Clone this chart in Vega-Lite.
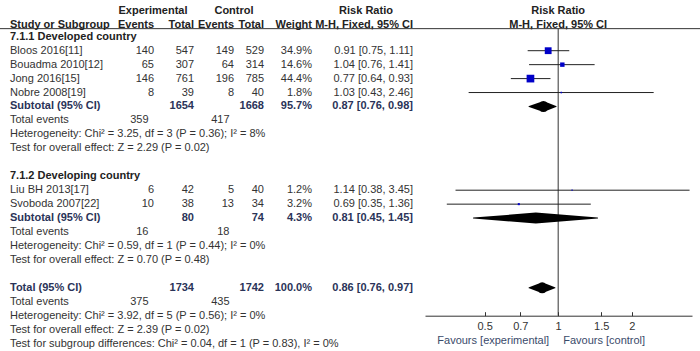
{
  "$schema": "https://vega.github.io/schema/vega-lite/v6.json",
  "width": 700,
  "height": 351,
  "autosize": "none",
  "padding": 0,
  "background": "white",
  "config": {
    "view": {"stroke": null},
    "text": {"font": "Liberation Sans", "fontSize": 11, "color": "#333333", "baseline": "middle"}
  },
  "datasets": {
    "rows": [
      {"row": 3, "kind": "head", "label": "7.1.1 Developed country"},
      {"row": 4, "kind": "study", "label": "Bloos 2016[11]", "e_ev": "140", "e_tot": "547", "c_ev": "149", "c_tot": "529", "wt": "34.9%", "ci": "0.91 [0.75, 1.11]", "rr": 0.91, "lo": 0.75, "hi": 1.11, "w": 34.9},
      {"row": 5, "kind": "study", "label": "Bouadma 2010[12]", "e_ev": "65", "e_tot": "307", "c_ev": "64", "c_tot": "314", "wt": "14.6%", "ci": "1.04 [0.76, 1.41]", "rr": 1.04, "lo": 0.76, "hi": 1.41, "w": 14.6},
      {"row": 6, "kind": "study", "label": "Jong 2016[15]", "e_ev": "146", "e_tot": "761", "c_ev": "196", "c_tot": "785", "wt": "44.4%", "ci": "0.77 [0.64, 0.93]", "rr": 0.77, "lo": 0.64, "hi": 0.93, "w": 44.4},
      {"row": 7, "kind": "study", "label": "Nobre 2008[19]", "e_ev": "8", "e_tot": "39", "c_ev": "8", "c_tot": "40", "wt": "1.8%", "ci": "1.03 [0.43, 2.46]", "rr": 1.03, "lo": 0.43, "hi": 2.46, "w": 1.8},
      {"row": 8, "kind": "sub", "label": "Subtotal (95% CI)", "e_tot": "1654", "c_tot": "1668", "wt": "95.7%", "ci": "0.87 [0.76, 0.98]", "rr": 0.87, "lo": 0.76, "hi": 0.98},
      {"row": 9, "kind": "ev", "label": "Total events", "te_e": "359", "te_c": "417"},
      {"row": 10, "kind": "info", "label": "Heterogeneity: Chi² = 3.25, df = 3 (P = 0.36); I² = 8%"},
      {"row": 11, "kind": "info", "label": "Test for overall effect: Z = 2.29 (P = 0.02)"},
      {"row": 13, "kind": "head", "label": "7.1.2 Developing country"},
      {"row": 14, "kind": "study", "label": "Liu BH 2013[17]", "e_ev": "6", "e_tot": "42", "c_ev": "5", "c_tot": "40", "wt": "1.2%", "ci": "1.14 [0.38, 3.45]", "rr": 1.14, "lo": 0.38, "hi": 3.45, "w": 1.2},
      {"row": 15, "kind": "study", "label": "Svoboda 2007[22]", "e_ev": "10", "e_tot": "38", "c_ev": "13", "c_tot": "34", "wt": "3.2%", "ci": "0.69 [0.35, 1.36]", "rr": 0.69, "lo": 0.35, "hi": 1.36, "w": 3.2},
      {"row": 16, "kind": "sub", "label": "Subtotal (95% CI)", "e_tot": "80", "c_tot": "74", "wt": "4.3%", "ci": "0.81 [0.45, 1.45]", "rr": 0.81, "lo": 0.45, "hi": 1.45},
      {"row": 17, "kind": "ev", "label": "Total events", "te_e": "16", "te_c": "18"},
      {"row": 18, "kind": "info", "label": "Heterogeneity: Chi² = 0.59, df = 1 (P = 0.44); I² = 0%"},
      {"row": 19, "kind": "info", "label": "Test for overall effect: Z = 0.70 (P = 0.48)"},
      {"row": 21, "kind": "sub", "label": "Total (95% CI)", "e_tot": "1734", "c_tot": "1742", "wt": "100.0%", "ci": "0.86 [0.76, 0.97]", "rr": 0.86, "lo": 0.76, "hi": 0.97},
      {"row": 22, "kind": "ev", "label": "Total events", "te_e": "375", "te_c": "435"},
      {"row": 23, "kind": "info", "label": "Heterogeneity: Chi² = 3.92, df = 5 (P = 0.56); I² = 0%"},
      {"row": 24, "kind": "info", "label": "Test for overall effect: Z = 2.39 (P = 0.02)"},
      {"row": 25, "kind": "info", "label": "Test for subgroup differences: Chi² = 0.04, df = 1 (P = 0.83), I² = 0%"}
    ]
  },
  "data": {"name": "rows"},
  "layer": [
    {
      "data": {"values": [{}]},
      "mark": {"type": "rule", "color": "#333333", "strokeWidth": 1},
      "encoding": {
        "y": {"datum": 2.42, "type": "quantitative", "scale": {"domain": [0.366, 25.527], "reverse": true, "nice": false, "zero": false}, "axis": null}
      }
    },
    {
      "data": {"values": [{}]},
      "mark": {"type": "rule", "color": "#333333", "strokeWidth": 1},
      "encoding": {
        "x": {"datum": 1, "type": "quantitative", "scale": {"type": "log", "domain": [0.285, 3.53], "range": [425, 692], "nice": false}, "axis": {"values": [0.5, 0.7, 1, 1.5, 2], "format": "~g", "title": null, "offset": -35.3, "grid": false, "domainColor": "#333333", "tickColor": "#333333", "tickSize": -4, "labelPadding": 9, "labelFont": "Liberation Sans", "labelFontSize": 11, "labelColor": "#333333", "labelFlush": false}},
        "y": {"datum": 2.42, "type": "quantitative", "scale": {"domain": [0.366, 25.527], "reverse": true, "nice": false, "zero": false}, "axis": null},
        "y2": {"datum": 23.0}
      }
    },
    {
      "transform": [{"filter": "datum.kind == 'study'"}],
      "mark": {"type": "rule", "color": "#222222", "strokeWidth": 1},
      "encoding": {
        "x": {"field": "lo", "type": "quantitative", "scale": {"type": "log", "domain": [0.285, 3.53], "range": [425, 692], "nice": false}, "axis": {"values": [0.5, 0.7, 1, 1.5, 2], "format": "~g", "title": null, "offset": -35.3, "grid": false, "domainColor": "#333333", "tickColor": "#333333", "tickSize": -4, "labelPadding": 9, "labelFont": "Liberation Sans", "labelFontSize": 11, "labelColor": "#333333", "labelFlush": false}},
        "x2": {"field": "hi"},
        "y": {"field": "row", "type": "quantitative", "scale": {"domain": [0.366, 25.527], "reverse": true, "nice": false, "zero": false}, "axis": null}
      }
    },
    {
      "transform": [{"filter": "datum.kind == 'study'"}],
      "mark": {"type": "point", "shape": "square", "filled": true, "color": "#0000c8", "opacity": 1},
      "encoding": {
        "x": {"field": "rr", "type": "quantitative", "scale": {"type": "log", "domain": [0.285, 3.53], "range": [425, 692], "nice": false}, "axis": {"values": [0.5, 0.7, 1, 1.5, 2], "format": "~g", "title": null, "offset": -35.3, "grid": false, "domainColor": "#333333", "tickColor": "#333333", "tickSize": -4, "labelPadding": 9, "labelFont": "Liberation Sans", "labelFontSize": 11, "labelColor": "#333333", "labelFlush": false}},
        "y": {"field": "row", "type": "quantitative", "scale": {"domain": [0.366, 25.527], "reverse": true, "nice": false, "zero": false}, "axis": null},
        "size": {"field": "w", "type": "quantitative", "scale": {"domain": [0, 45], "range": [0, 60]}, "legend": null}
      }
    },
    {
      "transform": [
        {"filter": "datum.kind == 'sub'"},
        {"fold": ["lo", "rr", "hi"], "as": ["pt", "v"]}
      ],
      "mark": {"type": "trail", "color": "#000000"},
      "encoding": {
        "x": {"field": "v", "type": "quantitative", "scale": {"type": "log", "domain": [0.285, 3.53], "range": [425, 692], "nice": false}, "axis": {"values": [0.5, 0.7, 1, 1.5, 2], "format": "~g", "title": null, "offset": -35.3, "grid": false, "domainColor": "#333333", "tickColor": "#333333", "tickSize": -4, "labelPadding": 9, "labelFont": "Liberation Sans", "labelFontSize": 11, "labelColor": "#333333", "labelFlush": false}},
        "y": {"field": "row", "type": "quantitative", "scale": {"domain": [0.366, 25.527], "reverse": true, "nice": false, "zero": false}, "axis": null},
        "size": {"field": "pt", "type": "ordinal", "scale": {"type": "ordinal", "domain": ["lo", "rr", "hi"], "range": [0, 11, 0]}, "legend": null},
        "detail": {"field": "row", "type": "nominal"}
      }
    },
    {
      "data": {"values": [{}]},
      "mark": {"type": "text", "text": "Favours [experimental]", "align": "right", "dx": -9, "color": "#3a4a6a"},
      "encoding": {
        "x": {"datum": 1, "type": "quantitative"},
        "y": {"datum": 24.8, "type": "quantitative"}
      }
    },
    {
      "data": {"values": [{}]},
      "mark": {"type": "text", "text": "Favours [control]", "align": "left", "dx": 5, "color": "#3a4a6a"},
      "encoding": {
        "x": {"datum": 1, "type": "quantitative"},
        "y": {"datum": 24.8, "type": "quantitative"}
      }
    },
    {
      "data": {"values": [{}]},
      "mark": {"type": "text", "text": "Risk Ratio", "align": "center", "fontWeight": "bold", "dy": 2, "color": "#222222"},
      "encoding": {
        "x": {"datum": 1, "type": "quantitative"},
        "y": {"datum": 1, "type": "quantitative"}
      }
    },
    {
      "data": {"values": [{}]},
      "mark": {"type": "text", "text": "M-H, Fixed, 95% CI", "align": "center", "fontWeight": "bold", "dy": 2, "color": "#222222"},
      "encoding": {
        "x": {"datum": 1, "type": "quantitative"},
        "y": {"datum": 2, "type": "quantitative"}
      }
    },
    {
      "data": {"values": [{}]},
      "mark": {"type": "text", "text": "Experimental", "align": "center", "x": 153, "fontWeight": "bold", "dy": 2, "color": "#222222"},
      "encoding": {"y": {"datum": 1, "type": "quantitative"}}
    },
    {
      "data": {"values": [{}]},
      "mark": {"type": "text", "text": "Control", "align": "center", "x": 234, "fontWeight": "bold", "dy": 2, "color": "#222222"},
      "encoding": {"y": {"datum": 1, "type": "quantitative"}}
    },
    {
      "data": {"values": [{}]},
      "mark": {"type": "text", "text": "Risk Ratio", "align": "center", "x": 366, "fontWeight": "bold", "dy": 2, "color": "#222222"},
      "encoding": {"y": {"datum": 1, "type": "quantitative"}}
    },
    {
      "data": {"values": [{}]},
      "mark": {"type": "text", "text": "Study or Subgroup", "align": "left", "x": 10, "fontWeight": "bold", "dy": 2, "color": "#222222"},
      "encoding": {"y": {"datum": 2, "type": "quantitative"}}
    },
    {
      "data": {"values": [{}]},
      "mark": {"type": "text", "text": "Events", "align": "right", "x": 154, "fontWeight": "bold", "dy": 2, "color": "#222222"},
      "encoding": {"y": {"datum": 2, "type": "quantitative"}}
    },
    {
      "data": {"values": [{}]},
      "mark": {"type": "text", "text": "Total", "align": "right", "x": 194, "fontWeight": "bold", "dy": 2, "color": "#222222"},
      "encoding": {"y": {"datum": 2, "type": "quantitative"}}
    },
    {
      "data": {"values": [{}]},
      "mark": {"type": "text", "text": "Events", "align": "right", "x": 234, "fontWeight": "bold", "dy": 2, "color": "#222222"},
      "encoding": {"y": {"datum": 2, "type": "quantitative"}}
    },
    {
      "data": {"values": [{}]},
      "mark": {"type": "text", "text": "Total", "align": "right", "x": 264, "fontWeight": "bold", "dy": 2, "color": "#222222"},
      "encoding": {"y": {"datum": 2, "type": "quantitative"}}
    },
    {
      "data": {"values": [{}]},
      "mark": {"type": "text", "text": "Weight", "align": "right", "x": 312, "fontWeight": "bold", "dy": 2, "color": "#222222"},
      "encoding": {"y": {"datum": 2, "type": "quantitative"}}
    },
    {
      "data": {"values": [{}]},
      "mark": {"type": "text", "text": "M-H, Fixed, 95% CI", "align": "right", "x": 413, "fontWeight": "bold", "dy": 2, "color": "#222222"},
      "encoding": {"y": {"datum": 2, "type": "quantitative"}}
    },
    {
      "transform": [{"filter": "datum.kind == 'study' || datum.kind == 'ev' || datum.kind == 'info'"}],
      "mark": {"type": "text", "align": "left", "x": 10},
      "encoding": {"y": {"field": "row", "type": "quantitative"}, "text": {"field": "label"}}
    },
    {
      "transform": [{"filter": "datum.kind == 'head'"}],
      "mark": {"type": "text", "align": "left", "x": 10, "fontWeight": "bold", "color": "#222222"},
      "encoding": {"y": {"field": "row", "type": "quantitative"}, "text": {"field": "label"}}
    },
    {
      "transform": [{"filter": "datum.kind == 'sub'"}],
      "mark": {"type": "text", "align": "left", "x": 10, "fontWeight": "bold", "color": "#2a3358"},
      "encoding": {"y": {"field": "row", "type": "quantitative"}, "text": {"field": "label"}}
    },
    {
      "transform": [{"filter": "datum.kind == 'study'"}],
      "mark": {"type": "text", "align": "right", "x": 154},
      "encoding": {"y": {"field": "row", "type": "quantitative"}, "text": {"field": "e_ev"}}
    },
    {
      "transform": [{"filter": "datum.kind == 'study'"}],
      "mark": {"type": "text", "align": "right", "x": 194},
      "encoding": {"y": {"field": "row", "type": "quantitative"}, "text": {"field": "e_tot"}}
    },
    {
      "transform": [{"filter": "datum.kind == 'study'"}],
      "mark": {"type": "text", "align": "right", "x": 234},
      "encoding": {"y": {"field": "row", "type": "quantitative"}, "text": {"field": "c_ev"}}
    },
    {
      "transform": [{"filter": "datum.kind == 'study'"}],
      "mark": {"type": "text", "align": "right", "x": 264},
      "encoding": {"y": {"field": "row", "type": "quantitative"}, "text": {"field": "c_tot"}}
    },
    {
      "transform": [{"filter": "datum.kind == 'study'"}],
      "mark": {"type": "text", "align": "right", "x": 312},
      "encoding": {"y": {"field": "row", "type": "quantitative"}, "text": {"field": "wt"}}
    },
    {
      "transform": [{"filter": "datum.kind == 'study'"}],
      "mark": {"type": "text", "align": "right", "x": 413},
      "encoding": {"y": {"field": "row", "type": "quantitative"}, "text": {"field": "ci"}}
    },
    {
      "transform": [{"filter": "datum.kind == 'sub'"}],
      "mark": {"type": "text", "align": "right", "x": 194, "fontWeight": "bold", "color": "#2a3358"},
      "encoding": {"y": {"field": "row", "type": "quantitative"}, "text": {"field": "e_tot"}}
    },
    {
      "transform": [{"filter": "datum.kind == 'sub'"}],
      "mark": {"type": "text", "align": "right", "x": 264, "fontWeight": "bold", "color": "#2a3358"},
      "encoding": {"y": {"field": "row", "type": "quantitative"}, "text": {"field": "c_tot"}}
    },
    {
      "transform": [{"filter": "datum.kind == 'sub'"}],
      "mark": {"type": "text", "align": "right", "x": 312, "fontWeight": "bold", "color": "#2a3358"},
      "encoding": {"y": {"field": "row", "type": "quantitative"}, "text": {"field": "wt"}}
    },
    {
      "transform": [{"filter": "datum.kind == 'sub'"}],
      "mark": {"type": "text", "align": "right", "x": 413, "fontWeight": "bold", "color": "#2a3358"},
      "encoding": {"y": {"field": "row", "type": "quantitative"}, "text": {"field": "ci"}}
    },
    {
      "transform": [{"filter": "datum.kind == 'ev'"}],
      "mark": {"type": "text", "align": "right", "x": 148.5},
      "encoding": {"y": {"field": "row", "type": "quantitative"}, "text": {"field": "te_e"}}
    },
    {
      "transform": [{"filter": "datum.kind == 'ev'"}],
      "mark": {"type": "text", "align": "right", "x": 229.5},
      "encoding": {"y": {"field": "row", "type": "quantitative"}, "text": {"field": "te_c"}}
    }
  ]
}
